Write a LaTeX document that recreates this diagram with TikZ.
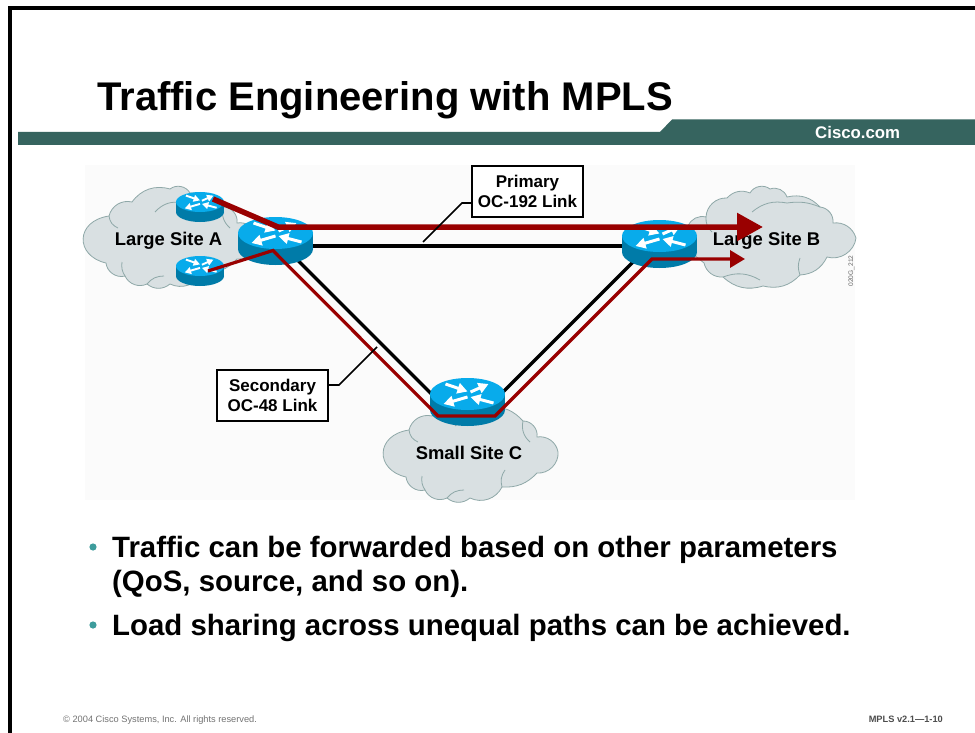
\documentclass[tikz,border=0pt]{standalone}
\usepackage{fontspec}
\setmainfont{Liberation Sans}
\usetikzlibrary{arrows.meta}
\definecolor{band}{HTML}{36645F}
\definecolor{cloudfill}{HTML}{D9E0E2}
\definecolor{cloudline}{HTML}{8FA8A8}
\definecolor{rtop}{HTML}{08ABEB}
\definecolor{rside}{HTML}{007BA8}
\definecolor{redline}{HTML}{990000}
\definecolor{teal2}{HTML}{3D9C9C}
\tikzset{
  x=1pt,y=-1pt,
  cloudstyle/.style={fill=cloudfill,draw=cloudline,line width=0.8pt},
  cloudinner/.style={draw=cloudline,line width=0.8pt},
  linkline/.style={black,line width=3.2pt},
  callout/.style={black,line width=1.6pt},
  labelbox/.style={draw=black,fill=white,line width=2.2pt,inner sep=0pt,minimum width=111pt,minimum height=51pt,align=center,font=\fontsize{17}{19.5}\selectfont\bfseries},
  sitelabel/.style={font=\fontsize{18.4}{22}\selectfont\bfseries,inner sep=0pt,anchor=base},
  bulletlabel/.style={font=\fontsize{29.4}{34}\selectfont\bfseries,inner sep=0pt,anchor=base west},
  footlabel/.style={font=\fontsize{9.25}{11}\selectfont,text=black!55,inner sep=0pt,anchor=base west},
  bigflow/.style={redline,line width=5.5pt,line join=miter},
  thinflow/.style={redline,line width=3.2pt,line join=miter},
  rarrow/.style={white,line width=3pt*#1,-{Triangle[length=10pt*#1,width=10.5pt*#1]}},
}
\newcommand{\routerdraw}[4]{%
  \begin{scope}[shift={(#1,#2)}]
    \fill[rside] (0,#4) ellipse[x radius=#3,y radius=#4];
    \fill[rside] (-#3,0) rectangle (#3,#4);
    \fill[rtop] (0,0) ellipse[x radius=#3,y radius=#4];
    \pgfmathsetmacro{\rs}{#3/37.5}
    \begin{scope}[scale=\rs]
      \draw[rarrow=\rs] (3,-2) -- (21,-10);
      \draw[rarrow=\rs] (-22,-10) -- (0,-2.5);
      \draw[rarrow=\rs] (0,3) -- (-24,10);
      \draw[rarrow=\rs] (26,9) -- (3,3);
    \end{scope}
  \end{scope}}
\newcommand{\cloudAC}{%
  \draw[cloudstyle] (409,430) to[bend left=45] (432,416) to[bend left=35] (470,403)
    to[bend left=50] (490,407) to[bend left=25] (523,421) to[bend left=50] (537,437)
    to[bend left=45] (558,452) to[bend left=50] (537,473) to[bend left=25] (502,487)
    to[bend left=45] (470,498) to[bend left=40] (447,498) to[bend left=45] (425,490)
    to[bend left=50] (406,477) .. controls (375,470) and (375,435) .. (409,430) -- cycle;
  \draw[cloudinner] (409,430) to[bend right=30] (418,442);
  \draw[cloudinner] (455,426) to[bend left=30] (483,417);
  \draw[cloudinner] (523,421) to[bend right=30] (530,442);
  \draw[cloudinner] (502,487) to[bend left=25] (505,470);
  \draw[cloudinner] (425,490) to[bend left=20] (422,476);
  \draw[cloudinner] (447,498) to[bend left=25] (464,490);
}
\begin{document}
\begin{tikzpicture}
\useasboundingbox (0,0) rectangle (975,733);
\fill[white] (0,0) rectangle (975,733);
% frame
\fill[black] (8,6) rectangle (975,10);
\fill[black] (8,6) rectangle (12,733);
% title and band
\fill[band] (18,132) -- (660,132) -- (672,119.5) -- (975,119.5) -- (975,145) -- (18,145) -- cycle;
\node[anchor=base west,inner sep=0pt,font=\fontsize{40}{44}\selectfont\bfseries] (title) at (97,111) {Traffic Engineering with MPLS};
\node[anchor=base west,inner sep=0pt,text=white,font=\fontsize{16.8}{20}\selectfont\bfseries] (cisco) at (815,139) {Cisco.com};
% panel
\fill[black!1.5] (85,165) rectangle (855,500);
% clouds
\cloudAC
\begin{scope}[shift={(-300,-214)}]\cloudAC\end{scope}
\draw[cloudstyle] (688,226) to[bend left=40] (706,217) to[bend left=45] (727,198) to[bend left=35] (750,193)
  to[bend left=50] (770,189) to[bend left=45] (787,197) to[bend left=30] (820,207) to[bend left=45] (833,223)
  to[bend left=40] (856,238) to[bend left=50] (827,257) to[bend left=30] (800,275) to[bend left=30] (763,286)
  to[bend left=30] (723,277) to[bend left=40] (704,263) -- (688,250) -- cycle;
\draw[cloudinner] (752,212) to[bend left=25] (787,203) to[bend left=15] (820,207);
\draw[cloudinner] (706,217) to[bend right=25] (712,232);
\draw[cloudinner] (800,275) to[bend left=20] (800,258);
\draw[cloudinner] (723,277) to[bend left=25] (760,280);
% link anchors
\coordinate (ra) at (275.5,246);
\coordinate (rb) at (659.5,246);
\coordinate (radiag) at (275.5,238);
\coordinate (rbdiag) at (659.5,235.5);
\coordinate (rcl) at (450,412.5);
\coordinate (rcr) at (485,410);
\draw[linkline] (ra) -- (rb);
\draw[linkline] (radiag) -- (rcl);
\draw[linkline] (rbdiag) -- (rcr);
% routers
\routerdraw{200}{202}{24}{10}
\routerdraw{200}{266}{24}{10}
\routerdraw{275.5}{233}{37.5}{16}
\routerdraw{659.5}{236}{37.5}{16}
\routerdraw{467.5}{394}{37.5}{16}
% site labels
\node[sitelabel] (sitea) at (168.5,245.5) {Large Site A};
\node[sitelabel] (siteb) at (766.5,245.5) {Large Site B};
\node[sitelabel] (sitec) at (469,459) {Small Site C};
% flows
\coordinate (f1s) at (213,199);
\coordinate (f1m) at (278,227);
\coordinate (f1e) at (763,227);
\draw[bigflow,-{Triangle[length=26pt,width=27pt]}] (f1s) -- (f1m) -- (f1e);
\coordinate (f2s) at (208,271);
\coordinate (f2a) at (273,250.5);
\coordinate (f2b) at (438,416);
\coordinate (f2c) at (495,416);
\coordinate (f2d) at (652,259);
\coordinate (f2e) at (745,259);
\draw[thinflow,-{Triangle[length=15pt,width=17pt]}] (f2s) -- (f2a) -- (f2b) -- (f2c) -- (f2d) -- (f2e);
% label boxes
\node[labelbox] (primary) at (527.5,191.5) {Primary\\OC-192 Link};
\node[labelbox] (secondary) at (272.5,395.5) {Secondary\\OC-48 Link};
\coordinate (pelbow) at (462,203);
\coordinate (pend) at (423,242);
\coordinate (selbow) at (339,385);
\coordinate (send) at (377,347);
\draw[callout] (primary.west |- pelbow) -- (pelbow) -- (pend);
\draw[callout] (secondary.east |- selbow) -- (selbow) -- (send);
% drawing id
\node[rotate=90,inner sep=0pt,text=black!60,font=\fontsize{6.6}{8}\selectfont] (figid) at (851.5,271) {020G\_212};
% bullets
\fill[teal2] (93,547) circle (3.6);
\fill[teal2] (93,625) circle (3.6);
\node[bulletlabel] (b1) at (112,557) {Traffic can be forwarded based on other parameters};
\node[bulletlabel] (b2) at (112,591) {(QoS, source, and so on).};
\node[bulletlabel] (b3) at (112,635) {Load sharing across unequal paths can be achieved.};
% footer
\node[footlabel] (copy) at (63,722) {© 2004 Cisco Systems, Inc. All rights reserved.};
\node[footlabel,anchor=base east,text=black!70,font=\fontsize{9.25}{11}\selectfont\bfseries] (ver) at (943,722) {MPLS v2.1—1-10};
\end{tikzpicture}
\end{document}
